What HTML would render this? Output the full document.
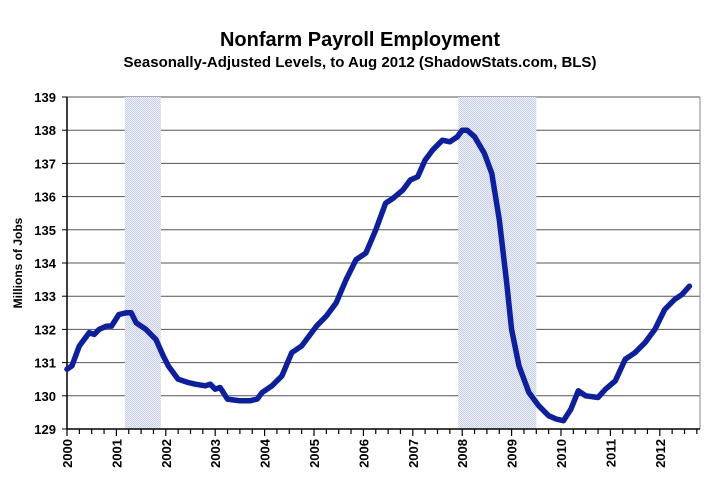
<!DOCTYPE html>
<html><head><meta charset="utf-8"><style>
body{margin:0;background:#fff;}
svg{display:block;font-family:"Liberation Sans",Arial,sans-serif;font-weight:bold;}
</style></head><body>
<svg id="s" width="721" height="499" xmlns="http://www.w3.org/2000/svg">
<defs><pattern id="p" width="2" height="2" patternUnits="userSpaceOnUse"><rect width="2" height="2" fill="#eef0f8"/><rect width="1" height="1" fill="#c6cee8"/><rect x="1" y="1" width="1" height="1" fill="#c6cee8"/></pattern></defs>
<text x="360" y="46" font-size="20" text-anchor="middle">Nonfarm Payroll Employment</text>
<text x="360" y="67" font-size="15" text-anchor="middle">Seasonally-Adjusted Levels, to Aug 2012 (ShadowStats.com, BLS)</text>
<text transform="translate(22,263) rotate(-90)" font-size="12" text-anchor="middle">Millions of Jobs</text>
<g id="g"></g>
</svg>
<script>
var g=document.getElementById('g'),h='';
function X(y){return 67+49.4*(y-2000);}
function Y(v){return 429-(v-129)*33.2;}
for(var v=129;v<=139;v++){var y=Y(v);
 if(v>129)h+='<line x1="67" x2="700" y1="'+y+'" y2="'+y+'" stroke="#555" stroke-width="1"/>';
 h+='<line x1="62" x2="67" y1="'+y+'" y2="'+y+'" stroke="#000"/>';
 h+='<text x="56" y="'+(y+5)+'" font-size="13" text-anchor="end">'+v+'</text>';}
h+='<rect x="'+X(2001.17)+'" y="97" width="'+(X(2001.9)-X(2001.17))+'" height="332" fill="url(#p)"/>';
h+='<rect x="'+X(2007.92)+'" y="97" width="'+(X(2009.5)-X(2007.92))+'" height="332" fill="url(#p)"/>';
h+='<line x1="67" x2="67" y1="97" y2="429" stroke="#000" stroke-width="1.5"/>';
h+='<line x1="700" x2="700" y1="97" y2="429" stroke="#888" stroke-width="1"/>';
h+='<line x1="67" x2="700" y1="429" y2="429" stroke="#000" stroke-width="1.5"/>';
for(var q=0;q<=51;q++){var x=X(2000+q/4);h+='<line x1="'+x+'" x2="'+x+'" y1="429" y2="'+(q%4?434:436)+'" stroke="#000" stroke-width="1.2"/>';}
for(var yr=2000;yr<=2012;yr++){var x=X(yr)+5;h+='<text transform="translate('+x+',439) rotate(-90)" font-size="13" text-anchor="end">'+yr+'</text>';}
var d=[[2000.0,130.8],[2000.1,130.9],[2000.25,131.5],[2000.45,131.9],[2000.55,131.85],[2000.65,132.0],[2000.8,132.1],[2000.9,132.1],[2001.05,132.45],[2001.2,132.5],[2001.3,132.5],[2001.4,132.2],[2001.6,132.0],[2001.8,131.7],[2001.95,131.2],[2002.05,130.9],[2002.25,130.5],[2002.45,130.4],[2002.6,130.35],[2002.8,130.3],[2002.9,130.35],[2003.0,130.2],[2003.1,130.25],[2003.25,129.9],[2003.5,129.85],[2003.7,129.85],[2003.85,129.9],[2003.95,130.1],[2004.15,130.3],[2004.35,130.6],[2004.55,131.3],[2004.75,131.5],[2004.9,131.8],[2005.05,132.1],[2005.25,132.4],[2005.45,132.8],[2005.65,133.5],[2005.85,134.1],[2006.05,134.3],[2006.25,135.0],[2006.45,135.8],[2006.6,135.95],[2006.8,136.2],[2006.95,136.5],[2007.1,136.6],[2007.25,137.1],[2007.4,137.4],[2007.6,137.7],[2007.75,137.65],[2007.9,137.8],[2008.0,138.0],[2008.1,138.0],[2008.25,137.8],[2008.45,137.3],[2008.6,136.7],[2008.75,135.3],[2008.9,133.4],[2009.0,132.0],[2009.15,130.9],[2009.35,130.1],[2009.55,129.7],[2009.75,129.4],[2009.9,129.3],[2010.05,129.25],[2010.2,129.6],[2010.35,130.15],[2010.5,130.0],[2010.75,129.95],[2010.9,130.2],[2011.1,130.45],[2011.3,131.1],[2011.5,131.3],[2011.7,131.6],[2011.9,132.0],[2012.1,132.6],[2012.3,132.9],[2012.45,133.05],[2012.6,133.3]];
var pts=d.map(function(p){return X(p[0]).toFixed(1)+','+Y(p[1]).toFixed(1)}).join(' ');
h+='<polyline points="'+pts+'" fill="none" stroke="#0c1fa3" stroke-width="5.5" stroke-linejoin="round" stroke-linecap="round"/>';
g.innerHTML=h;
</script>
</body></html>
